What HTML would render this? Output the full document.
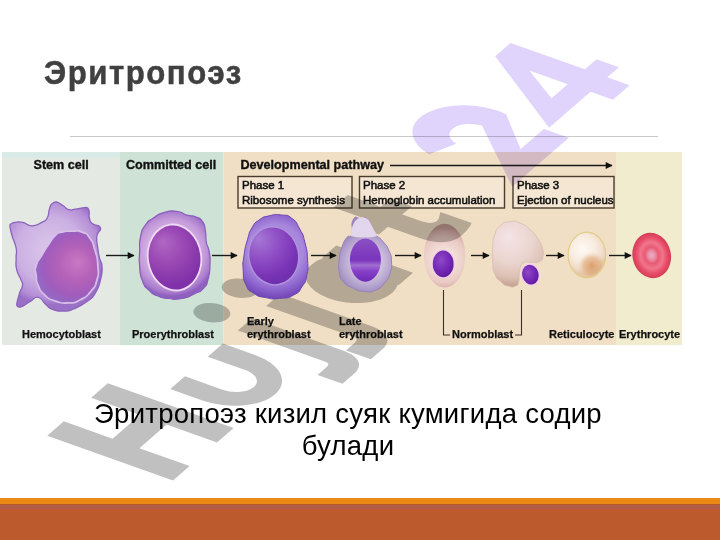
<!DOCTYPE html>
<html><head><meta charset="utf-8">
<style>
html,body{margin:0;padding:0;}
body{width:720px;height:540px;position:relative;overflow:hidden;background:#fff;font-family:"Liberation Sans",sans-serif;}
.abs{position:absolute;}
#title{left:44px;top:54px;font-size:33.5px;letter-spacing:1.65px;transform:scaleX(0.93);transform-origin:0 0;-webkit-text-stroke:0.5px #404040;line-height:38px;font-weight:bold;color:#404040;white-space:nowrap;}
#rule{left:70px;top:136px;width:588px;height:1px;background:#c9c9c9;}
#fig{left:0;top:0;}
#sub{left:0;width:696px;top:398px;font-size:27.5px;letter-spacing:0.26px;line-height:32.3px;text-align:center;color:#000;}
#bar1{left:0;top:498px;width:720px;height:6px;background:#ea8913;}
#bar2{left:0;top:504px;width:720px;height:36px;background:linear-gradient(#b95a22 0,#b95a22 1px,#b45c4a 1px,#b45c4a 5px,#c05a28 6px,#bc5a2e 9px,#bc5a2e 100%);}
.lab{position:absolute;font-size:11px;font-weight:bold;color:#111;white-space:nowrap;line-height:13px;-webkit-text-stroke:0.25px #111;}
.hd{font-size:12.6px;-webkit-text-stroke:0.35px #111;}
.ph{position:absolute;font-size:11.5px;color:#111;white-space:nowrap;line-height:14.6px;-webkit-text-stroke:0.55px #111;}
</style></head>
<body>
<div id="title" class="abs">Эритропоэз</div>
<div id="rule" class="abs"></div>
<svg id="fig" class="abs" width="720" height="540" viewBox="0 0 720 540">
<defs>
<radialGradient id="gStemC" gradientUnits="userSpaceOnUse" cx="50" cy="250" r="55">
  <stop offset="0" stop-color="#dcc8ec"/><stop offset="0.6" stop-color="#cbb0e2"/><stop offset="0.88" stop-color="#b48ed6"/><stop offset="1" stop-color="#9a70c6"/>
</radialGradient>
<radialGradient id="gStemN" gradientUnits="userSpaceOnUse" cx="74" cy="266" r="38" fx="78" fy="262">
  <stop offset="0" stop-color="#c878c4"/><stop offset="0.45" stop-color="#b462b8"/><stop offset="0.8" stop-color="#a05cbc"/><stop offset="1" stop-color="#9468c4"/>
</radialGradient>
<radialGradient id="gProC" gradientUnits="userSpaceOnUse" cx="172" cy="252" r="44">
  <stop offset="0.5" stop-color="#d8b8e6"/><stop offset="0.75" stop-color="#c49ada"/><stop offset="0.92" stop-color="#a87ccc"/><stop offset="1" stop-color="#9060c0"/>
</radialGradient>
<radialGradient id="gProN" gradientUnits="userSpaceOnUse" cx="170" cy="250" r="36" fx="165" fy="240">
  <stop offset="0" stop-color="#b068c4"/><stop offset="0.5" stop-color="#9a48b4"/><stop offset="1" stop-color="#8030a8"/>
</radialGradient>
<radialGradient id="gEarC" gradientUnits="userSpaceOnUse" cx="275" cy="252" r="46">
  <stop offset="0.6" stop-color="#a888dc"/><stop offset="0.8" stop-color="#9068d0"/><stop offset="1" stop-color="#7448b8"/>
</radialGradient>
<radialGradient id="gEarN" gradientUnits="userSpaceOnUse" cx="266" cy="243" r="38" fx="262" fy="236">
  <stop offset="0" stop-color="#a678d4"/><stop offset="0.45" stop-color="#9050c6"/><stop offset="0.85" stop-color="#7a34b6"/><stop offset="1" stop-color="#7030b0"/>
</radialGradient>
<radialGradient id="gLatC" gradientUnits="userSpaceOnUse" cx="367" cy="262" r="32">
  <stop offset="0.5" stop-color="#cdbedc"/><stop offset="0.8" stop-color="#b2a0cc"/><stop offset="1" stop-color="#9a88bc"/>
</radialGradient>
<linearGradient id="gLatN" x1="0" y1="0" x2="0" y2="1">
  <stop offset="0" stop-color="#8a50c4"/><stop offset="0.5" stop-color="#7a34bc"/><stop offset="0.62" stop-color="#a070d0"/><stop offset="0.75" stop-color="#8840c8"/><stop offset="1" stop-color="#6c28b4"/>
</linearGradient>
<radialGradient id="gNucD" cx="0.4" cy="0.35" r="0.7">
  <stop offset="0" stop-color="#9048c8"/><stop offset="0.6" stop-color="#7428b4"/><stop offset="1" stop-color="#5e1a98"/>
</radialGradient>
<radialGradient id="gNor" gradientUnits="userSpaceOnUse" cx="444" cy="260" r="32">
  <stop offset="0.3" stop-color="#f4e0da"/><stop offset="0.7" stop-color="#eacac4"/><stop offset="0.9" stop-color="#dab0aa"/><stop offset="1" stop-color="#c89c96"/>
</radialGradient>
<radialGradient id="gNor2" gradientUnits="userSpaceOnUse" cx="512" cy="243" r="42" fx="508" fy="236">
  <stop offset="0" stop-color="#f4e4e6"/><stop offset="0.55" stop-color="#ead4ce"/><stop offset="0.85" stop-color="#dcc0b4"/><stop offset="1" stop-color="#c8a694"/>
</radialGradient>
<radialGradient id="gRet" gradientUnits="userSpaceOnUse" cx="583" cy="249" r="25">
  <stop offset="0" stop-color="#fefaf4"/><stop offset="0.5" stop-color="#f8ece0"/><stop offset="0.8" stop-color="#f0dcc8"/><stop offset="1" stop-color="#e4c8a8"/>
</radialGradient>
<radialGradient id="gRetP" gradientUnits="userSpaceOnUse" cx="592" cy="266" r="14">
  <stop offset="0" stop-color="#d89860" stop-opacity="0.9"/><stop offset="0.6" stop-color="#e0a878" stop-opacity="0.6"/><stop offset="1" stop-color="#e8c0a0" stop-opacity="0"/>
</radialGradient>
<radialGradient id="gEry" cx="0.5" cy="0.5" r="0.5">
  <stop offset="0" stop-color="#e6b0c8"/><stop offset="0.18" stop-color="#ea90a8"/><stop offset="0.36" stop-color="#e85a74"/><stop offset="0.58" stop-color="#f0768c"/><stop offset="0.8" stop-color="#e84c68"/><stop offset="1" stop-color="#d43c58"/>
</radialGradient>
<marker id="ah" viewBox="0 0 10 10" refX="9" refY="5" markerWidth="5.5" markerHeight="5" orient="auto">
  <path d="M0,0 L10,5 L0,10 z" fill="#111"/>
</marker>
</defs>
<rect x="2" y="152" width="118" height="193" fill="#e4eae3"/>
<rect x="2" y="152" width="118" height="6" fill="#d9ebe6"/>
<rect x="120" y="152" width="103.5" height="193" fill="#cee3d6"/>
<rect x="223.5" y="152" width="392.5" height="193" fill="#f0dfc5"/>
<rect x="616" y="152" width="66" height="193" fill="#f2ecce"/>
<g stroke="#1a1a1a" stroke-width="1.4" marker-end="url(#ah)">
<line x1="106" y1="255.5" x2="134" y2="255.5"/>
<line x1="212" y1="255.5" x2="237" y2="255.5"/>
<line x1="311" y1="255.5" x2="336" y2="255.5"/>
<line x1="395" y1="255.5" x2="421" y2="255.5"/>
<line x1="471" y1="255.5" x2="489" y2="255.5"/>
<line x1="546" y1="255.5" x2="564" y2="255.5"/>
<line x1="609" y1="255.5" x2="631" y2="255.5"/>
<line x1="390" y1="165.5" x2="612" y2="165.5"/>
</g>
<g fill="#f4e6d2" stroke="#4a3c2c" stroke-width="1.4">
<rect x="238" y="176.5" width="114" height="31.5"/>
<rect x="359.5" y="176.5" width="145" height="31.5"/>
<rect x="513" y="176.5" width="101" height="31.5"/>
</g>
<g fill="none" stroke="#3a3024" stroke-width="1.1">
<polyline points="443.5,290 443.5,335 450,335"/>
<polyline points="521.5,290 521.5,335 515,335"/>
</g>
<path d="M10.0,224.7 C10.2,224.1 11.2,223.1 15.0,222.4 C18.8,221.7 17.8,221.4 22.8,222.4 C27.8,223.4 26.0,225.8 31.7,225.8 C37.4,225.8 37.1,224.7 41.7,222.4 C46.4,220.1 44.9,222.0 47.2,218.0 C49.5,214.0 47.9,213.4 49.4,209.1 C50.9,204.8 50.0,205.8 52.2,203.6 C54.4,201.4 56.1,201.8 56.7,201.9 C57.3,202.0 59.6,203.5 63.3,205.8 C67.0,208.1 65.2,208.7 68.9,209.7 C72.6,210.7 70.6,209.8 75.6,209.1 C80.6,208.4 84.9,207.3 85.6,207.4 C86.3,207.5 87.8,207.0 88.9,210.2 C90.0,213.4 88.4,214.0 89.4,218.0 C90.4,222.0 89.4,221.3 92.2,223.6 C95.0,225.9 98.5,225.5 98.9,225.8 C99.3,226.1 100.9,226.8 100.6,229.1 C100.3,231.4 99.0,230.6 97.8,233.6 C96.6,236.6 96.7,234.8 96.7,239.1 C96.7,243.4 97.0,242.3 97.8,248.0 C98.6,253.7 98.2,252.4 99.5,258.0 C100.8,263.6 101.7,260.2 102.0,266.7 C102.3,273.2 102.5,271.9 100.5,279.8 C98.5,287.7 99.5,286.3 95.4,292.9 C91.3,299.5 93.3,296.9 86.7,301.7 C80.1,306.5 80.5,306.2 73.5,309.0 C66.5,311.8 69.4,310.9 63.3,311.1 C57.2,311.3 58.4,311.6 53.1,309.7 C47.9,307.8 50.2,308.3 45.8,304.6 C41.4,300.9 43.3,298.2 38.5,297.3 C33.7,296.4 35.0,298.8 29.8,301.7 C24.6,304.6 24.9,305.9 21.0,306.8 C17.1,307.7 16.8,305.3 16.7,304.6 C16.6,303.9 17.9,298.6 19.6,292.9 C21.3,287.2 22.1,289.5 22.5,285.6 C22.9,281.7 22.7,284.6 21.0,279.8 C19.3,275.0 18.2,276.1 16.7,269.6 C15.2,263.1 16.3,264.5 16.1,258.0 C15.9,251.5 17.4,255.0 16.1,248.0 C14.8,241.0 13.5,241.7 11.7,234.7 C9.9,227.7 9.8,225.3 10.0,224.7 Z" fill="url(#gStemC)" stroke="#8c62bc" stroke-width="1.3"/>
<path d="M62.0,233.0 C67.3,231.7 65.3,232.0 72.0,232.0 C78.7,232.0 76.3,230.8 82.0,233.0 C87.7,235.2 85.0,232.8 89.0,238.5 C93.0,244.2 91.3,240.8 94.0,250.0 C96.7,259.2 96.3,256.0 97.0,266.0 C97.7,276.0 98.3,271.7 96.0,280.0 C93.7,288.3 95.3,284.7 90.0,291.0 C84.7,297.3 87.3,295.3 80.0,299.0 C72.7,302.7 76.3,301.7 68.0,302.0 C59.7,302.3 62.7,302.7 55.0,300.0 C47.3,297.3 50.3,299.0 45.0,294.0 C39.7,289.0 41.7,291.3 39.0,285.0 C36.3,278.7 37.7,281.3 37.0,275.0 C36.3,268.7 35.0,272.7 37.0,266.0 C39.0,259.3 38.7,262.3 43.0,255.0 C47.3,247.7 45.7,250.3 50.0,244.0 C54.3,237.7 52.0,239.7 56.0,236.0 C60.0,232.3 56.7,234.3 62.0,233.0 Z" fill="#d8bfe8" stroke="#d8bfe8" stroke-width="3.5"/>
<path d="M62.0,233.0 C67.3,231.7 65.3,232.0 72.0,232.0 C78.7,232.0 76.3,230.8 82.0,233.0 C87.7,235.2 85.0,232.8 89.0,238.5 C93.0,244.2 91.3,240.8 94.0,250.0 C96.7,259.2 96.3,256.0 97.0,266.0 C97.7,276.0 98.3,271.7 96.0,280.0 C93.7,288.3 95.3,284.7 90.0,291.0 C84.7,297.3 87.3,295.3 80.0,299.0 C72.7,302.7 76.3,301.7 68.0,302.0 C59.7,302.3 62.7,302.7 55.0,300.0 C47.3,297.3 50.3,299.0 45.0,294.0 C39.7,289.0 41.7,291.3 39.0,285.0 C36.3,278.7 37.7,281.3 37.0,275.0 C36.3,268.7 35.0,272.7 37.0,266.0 C39.0,259.3 38.7,262.3 43.0,255.0 C47.3,247.7 45.7,250.3 50.0,244.0 C54.3,237.7 52.0,239.7 56.0,236.0 C60.0,232.3 56.7,234.3 62.0,233.0 Z" fill="url(#gStemN)"/>
<path d="M140.6,236.5 C142.5,227.9 140.9,231.6 145.2,225.4 C149.5,219.2 147.0,222.3 153.5,218.0 C160.0,213.7 156.6,214.6 164.6,212.4 C172.6,210.2 170.2,210.6 177.6,211.5 C185.0,212.4 180.7,213.4 186.9,215.2 C193.1,217.0 190.9,214.8 196.1,217.0 C201.3,219.2 199.5,217.1 202.6,221.7 C205.7,226.3 204.2,224.1 205.4,230.9 C206.6,237.7 205.1,235.2 206.3,242.0 C207.5,248.8 207.9,243.9 209.1,251.3 C210.3,258.7 210.3,255.0 210.0,264.3 C209.7,273.6 210.3,271.1 208.1,279.1 C205.9,287.1 208.1,283.4 203.5,288.3 C198.9,293.2 201.7,290.5 194.3,293.9 C186.9,297.3 190.0,297.0 181.3,298.5 C172.6,300.0 176.3,299.4 168.3,298.5 C160.3,297.6 163.7,298.5 157.2,295.7 C150.7,292.9 153.8,295.1 148.9,290.2 C144.0,285.3 145.5,288.9 142.4,280.9 C139.3,272.9 140.5,276.0 139.6,266.1 C138.7,256.2 139.3,261.2 139.6,251.3 C139.9,241.4 138.7,245.1 140.6,236.5 Z" fill="url(#gProC)" stroke="#8a5cbc" stroke-width="1.2"/>
<ellipse cx="174.5" cy="257.5" rx="27.6" ry="34" fill="#eedaf2" transform="rotate(-8 174.5 257.5)"/>
<ellipse cx="174.5" cy="257.5" rx="25.8" ry="32.2" fill="url(#gProN)" transform="rotate(-8 174.5 257.5)"/>
<ellipse cx="444.6" cy="255.7" rx="20.7" ry="31.9" fill="url(#gNor)"/>
<ellipse cx="443.2" cy="263.9" rx="11.6" ry="14.5" fill="#f2cce8"/>
<ellipse cx="443.2" cy="263.9" rx="10.4" ry="13.3" fill="url(#gNucD)"/>
<path d="M494.9,234.3 C497.6,226.9 495.9,229.6 500.8,225.4 C505.7,221.2 503.3,222.5 509.7,221.7 C516.1,220.9 513.2,220.4 520.1,223.1 C527.0,225.8 524.5,224.6 530.4,229.8 C536.3,235.0 533.9,232.8 537.9,238.7 C541.9,244.6 540.6,241.7 542.3,247.6 C544.0,253.5 544.0,251.8 543.0,256.5 C542.0,261.2 543.0,259.7 539.3,261.7 C535.6,263.7 536.8,262.2 531.9,262.4 C527.0,262.6 528.2,260.9 524.5,262.4 C520.8,263.9 522.5,262.9 520.8,266.9 C519.1,270.9 520.0,269.4 519.3,274.3 C518.6,279.2 519.8,277.8 518.6,281.7 C517.4,285.6 519.1,284.6 515.6,286.1 C512.1,287.6 513.1,287.6 508.2,286.1 C503.3,284.6 505.2,285.6 500.8,281.7 C496.4,277.8 497.6,280.7 494.9,274.3 C492.2,267.9 493.4,271.3 492.7,262.4 C492.0,253.5 492.0,257.0 492.7,247.6 C493.4,238.2 492.2,241.7 494.9,234.3 Z" fill="url(#gNor2)" stroke="#d8bcb2" stroke-width="0.8"/>
<ellipse cx="530.4" cy="274.6" rx="9.8" ry="11.6" fill="#f4d4ec" transform="rotate(-15 530.4 274.6)"/>
<ellipse cx="530.4" cy="274.6" rx="8.2" ry="10" fill="url(#gNucD)" transform="rotate(-15 530.4 274.6)"/>
<ellipse cx="586.9" cy="255" rx="18.8" ry="22.8" fill="url(#gRet)" stroke="#e2cc88" stroke-width="1.2"/>
<ellipse cx="586.9" cy="255" rx="18" ry="22" fill="url(#gRetP)"/>
<ellipse cx="651.7" cy="255.4" rx="19.2" ry="22.9" fill="url(#gEry)" transform="rotate(-12 651.7 255.4)"/>
</svg>
<div class="lab hd" style="left:33.5px;top:159px">Stem cell</div>
<div class="lab hd" style="left:126px;top:159px">Committed cell</div>
<div class="lab hd" style="left:240.5px;top:159px">Developmental pathway</div>
<div class="ph" style="left:242px;top:178px">Phase 1<br>Ribosome synthesis</div>
<div class="ph" style="left:363px;top:178px">Phase 2<br>Hemoglobin accumulation</div>
<div class="ph" style="left:517px;top:178px">Phase 3<br>Ejection of nucleus</div>
<div class="lab" style="left:22px;top:328px">Hemocytoblast</div>
<div class="lab" style="left:132px;top:328px">Proerythroblast</div>
<div class="lab" style="left:247px;top:315px">Early<br>erythroblast</div>
<div class="lab" style="left:339px;top:315px">Late<br>erythroblast</div>
<div class="lab" style="left:452px;top:328px">Normoblast</div>
<div class="lab" style="left:549px;top:328px">Reticulocyte</div>
<div class="lab" style="left:619px;top:328px">Erythrocyte</div>
<div id="sub" class="abs">Эритропоэз кизил суяк кумигида содир<br>булади</div>
<div id="bar1" class="abs"></div>
<div id="bar2" class="abs"></div>
<svg class="abs" style="left:0;top:0;mix-blend-mode:multiply" width="720" height="540" viewBox="0 0 720 540">
<g transform="matrix(0.0506 -0.0438 0.0893 0.0317 166.1 486.4)">
<path fill="#c0c0c0" fill-rule="nonzero" d="M137,0 V-1409 H465 V-863 H1005 V-1409 H1335 V0 H1005 V-563 H465 V0 Z M1600,-860 H1890 V-440 A225,225 0 0 0 2340,-440 V-860 H2640 V-500 A520,520 0 0 1 1600,-500 Z M2935,-860 H3215 V150 C3215,350 3095,460 2885,460 H2675 V180 H2855 C2905,180 2935,160 2935,120 Z M2895,-1230 A180,180 0 1 1 3255,-1230 A180,180 0 1 1 2895,-1230 Z M3495,-860 H3775 V150 C3775,350 3655,460 3445,460 H3235 V180 H3415 C3465,180 3495,160 3495,120 Z M3455,-1230 A180,180 0 1 1 3815,-1230 A180,180 0 1 1 3455,-1230 Z M3980,-430 A450,450 0 1 1 4880,-430 A450,450 0 1 1 3980,-430 Z M4600,-860 H4880 V0 H4600 Z M5480,-1230 H5760 V-420 C5760,-300 5820,-270 5900,-290 L6020,-340 V10 C5940,35 5860,45 5760,45 C5580,45 5480,-60 5480,-260 Z M5300,-860 H5950 V-620 H5300 Z"/>
<path fill="#e0d4fc" fill-rule="evenodd" d="M6889,-957 A560,560 0 0 1 7981,-715 L7500,-280 H7960 V0 H6840 L7657,-802 A225,225 0 0 0 7216,-840 Z M8009,-250 L8855,-1333 H9160 V-500 H9390 V-250 H9160 V0 H8830 V-250 Z M8820,-930 L8500,-500 H8820 Z"/>
</g></svg>
<svg class="abs" style="left:0;top:0" width="720" height="540" viewBox="0 0 720 540">
<path d="M258.9,220.2 C264.7,216.1 261.8,217.5 269.3,215.8 C276.8,214.1 274.0,214.1 281.5,215.0 C289.0,215.9 285.8,213.8 291.9,218.4 C298.0,223.0 295.3,220.8 299.7,228.9 C304.1,237.0 302.4,232.4 305.0,242.8 C307.6,253.2 307.0,249.2 307.6,260.2 C308.2,271.2 308.5,267.1 306.7,275.8 C304.9,284.5 306.6,279.9 302.3,286.3 C298.0,292.7 301.2,291.0 293.7,295.0 C286.2,299.0 289.0,297.5 279.7,298.4 C270.4,299.3 274.5,299.3 265.8,297.6 C257.1,295.9 260.4,297.6 253.7,293.2 C247.0,288.8 249.3,292.0 245.8,284.5 C242.3,277.0 243.8,280.5 243.2,270.6 C242.6,260.7 242.6,265.3 244.1,254.9 C245.6,244.5 245.0,248.3 247.6,239.3 C250.2,230.3 248.1,234.4 251.9,228.0 C255.7,221.6 253.1,224.3 258.9,220.2 Z" fill="url(#gEarC)" stroke="#6c44b0" stroke-width="1"/>
<ellipse cx="273.7" cy="255.8" rx="25.5" ry="29.8" fill="#b094dc" transform="rotate(-10 273.7 255.8)"/>
<ellipse cx="273.7" cy="255.8" rx="24.2" ry="28.5" fill="url(#gEarN)" transform="rotate(-10 273.7 255.8)"/>
<path d="M353.2,219.8 C356.2,214.5 355.6,218.5 360.5,218.5 C365.4,218.5 363.3,215.0 367.9,219.8 C372.5,224.6 369.5,225.7 374.4,232.8 C379.3,239.9 377.6,235.0 382.5,241.0 C387.4,247.0 386.0,243.6 389.0,250.7 C392.0,257.8 391.2,254.6 391.5,262.2 C391.8,269.8 392.3,266.6 389.9,273.6 C387.5,280.6 388.8,277.9 384.2,283.3 C379.6,288.7 382.5,287.2 376.0,289.9 C369.5,292.6 372.2,292.1 364.6,291.5 C357.0,290.9 360.3,291.5 353.2,288.2 C346.1,284.9 348.0,287.1 343.4,281.7 C338.8,276.3 340.7,279.5 339.3,271.9 C337.9,264.3 338.5,267.0 339.3,258.9 C340.1,250.8 339.3,254.6 341.8,247.5 C344.3,240.4 343.4,242.1 346.7,237.7 C350.0,233.3 349.4,240.4 351.6,234.4 C353.8,228.4 350.2,225.1 353.2,219.8 Z" fill="url(#gLatC)" stroke="#9a80c0" stroke-width="1"/>
<path d="M351,236 C351,228 354,220 359,218 C364,216 369,219 371,224 C373,229 376,233 377,236 C370,238 358,238 351,236 Z" fill="#e2d6ec"/>
<ellipse cx="365.4" cy="260.1" rx="15.5" ry="21.6" fill="url(#gLatN)"/>

</svg>
</body></html>
